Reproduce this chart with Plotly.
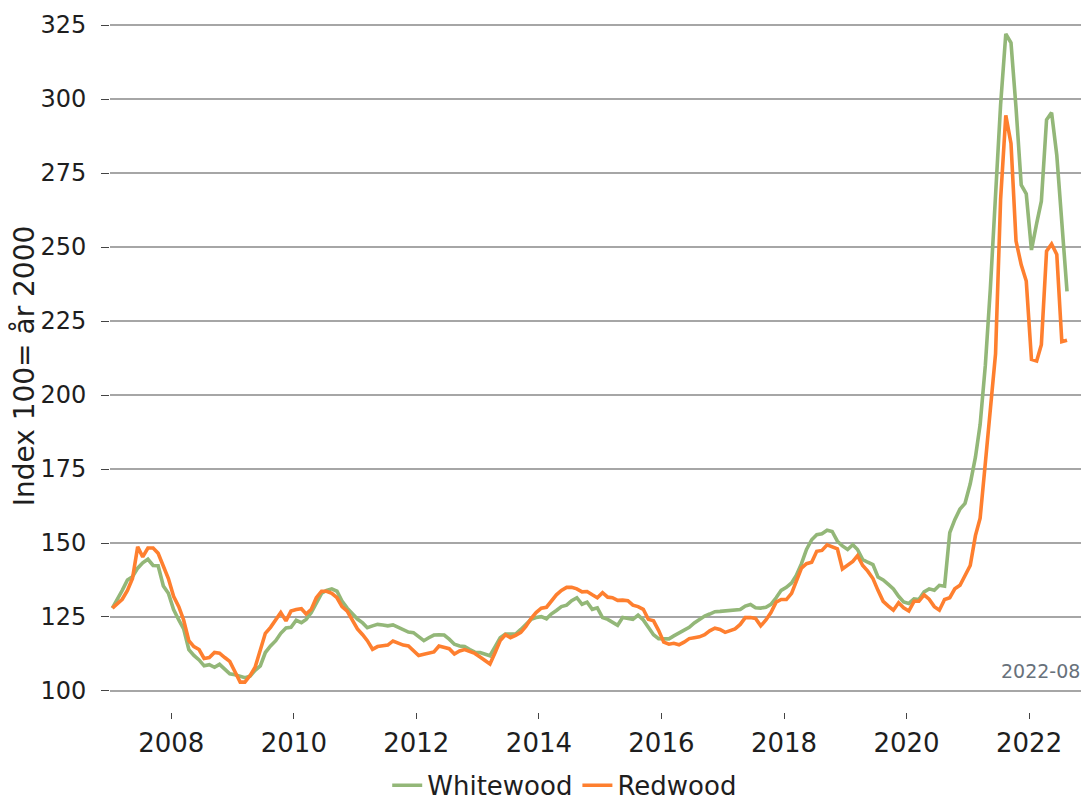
import pandas as pd
import plotly.graph_objects as go

# Monthly index values, 2007-01 .. 2022-08 (index 100 = year 2000)
start_month = "2007-01-01"
n_months = 188

whitewood = [
    128, 131, 134, 137.5, 138.6, 141.5, 143.3, 144.5, 142.4, 142.3, 135.5, 133,
    127.5, 124, 121, 114, 112, 110.5, 108.5, 108.9, 108, 109, 107.5, 105.8,
    105.5, 105, 104.5, 105, 107, 108.5, 113, 115.2, 117, 119.5, 121.3, 121.5,
    123.9, 123.1, 124.2, 126.5, 129.5, 133, 134, 134.5, 133.7, 130.4, 128, 126,
    124.3, 123, 121.4, 122, 122.5, 122.3, 122, 122.3, 121.4, 120.5, 119.9, 119.7,
    118.5, 117, 118, 118.9, 119, 118.9, 117.5, 115.8, 115.2, 115, 114, 113.1,
    113, 112.5, 111.9, 115, 118, 119.2, 119.2, 119.2, 120.8, 122.5, 124.2, 124.8,
    125.1, 124.4, 126, 127.2, 128.5, 129, 130.5, 131.5, 129.3, 130, 127.6, 128.1,
    124.8, 124.2, 123.3, 122.2, 124.8, 124.5, 124.2, 125.6, 124, 121.5, 119, 117.7,
    117.5, 117.6, 118.6, 119.6, 120.8, 121.5, 123, 124.2, 125.3, 126, 126.8, 126.9,
    127, 127.1, 127.2, 127.5, 128.7, 129.2, 128.1, 128, 128.3, 129.3, 131.5, 134,
    135, 136.5, 139, 143, 147.8, 151.1, 152.8, 153.1, 154.3, 153.9, 150.6, 149,
    147.8, 149.4, 147.8, 144.4, 143.5, 142.7, 138.5, 137.5, 136, 134.5, 132, 130.1,
    129.6, 131.1, 130.9, 133.5, 134.5, 134, 135.7, 135.4, 153.5, 157.9, 161.5, 163.4,
    170, 179, 190, 210, 236, 268, 298, 322, 319, 297, 271, 268,
    249, 258, 265.5, 293, 295.4, 281, 259, 235,
]

redwood = [
    128, 129.5, 131, 134, 138, 148.7, 145.3, 148.3, 148.3, 146.5, 142, 138,
    132, 128.5, 124, 117, 115, 114, 111, 111.3, 113, 112.8, 111.3, 110,
    106.5, 103, 103, 105.2, 108, 114, 119.5, 121.5, 124.2, 126.5, 123.7, 127,
    127.5, 127.8, 126, 127.6, 131.5, 133.7, 133.7, 133, 131.5, 128.5, 127, 124,
    121, 119, 117, 114.1, 115, 115.3, 115.5, 116.9, 116.2, 115.5, 115.2, 113.5,
    112, 112.4, 112.8, 113.2, 115.2, 114.8, 114.3, 112.5, 113.5, 114, 113.4, 112.7,
    111.5, 110.4, 109.1, 113, 117, 119, 118, 118.8, 119.8, 121.8, 124.5, 126.5,
    128, 128.3, 130.5, 132.5, 134, 135, 135, 134.5, 133.5, 133.6, 132.5, 131.5,
    133.2, 131.7, 131.5, 130.6, 130.7, 130.5, 129, 128.5, 127.6, 124.2, 123.7, 120.5,
    116.5, 115.8, 116.1, 115.6, 116.5, 117.7, 118, 118.3, 119, 120.3, 121.2, 120.8,
    119.8, 120.3, 121, 122.5, 124.8, 124.8, 124.5, 122, 124, 126.5, 130, 130.9,
    130.9, 133, 137, 141.5, 143, 143.5, 147.2, 147.5, 149.4, 148.7, 148, 141.2,
    142.7, 143.8, 145.7, 142.4, 140.5, 138, 134, 130.3, 128.7, 127.3, 129.8, 128.1,
    127, 130.3, 130.3, 132.5, 131, 128.5, 127.3, 130.9, 131.5, 134.5, 135.7, 138.8,
    142.4, 152.5, 158.4, 177, 196, 214, 266, 294.5, 285, 252, 244, 238.5,
    212, 211.5, 217, 248.6, 251, 247.5, 218, 218.5,
]

y_ticks = [100, 125, 150, 175, 200, 225, 250, 275, 300, 325]
series_names = ["Whitewood", "Redwood"]
y_title = "Index 100= år 2000"
stamp_text = "2022-08"

dates = pd.date_range(start=start_month, periods=n_months, freq="MS") + pd.Timedelta(days=14)

GREEN = "#93b778"
ORANGE = "#fe7f2f"
FONT = "DejaVu Sans"
TXT = "#1e1e1e"

fig = go.Figure()
fig.add_trace(go.Scatter(x=dates, y=whitewood, mode="lines", name=series_names[0],
                         line=dict(color=GREEN, width=3.6)))
fig.add_trace(go.Scatter(x=dates, y=redwood, mode="lines", name=series_names[1],
                         line=dict(color=ORANGE, width=3.6)))

fig.add_annotation(text=stamp_text, xref="paper", yref="y", x=0.993, y=106.8,
                   xanchor="right", yanchor="middle", showarrow=False,
                   font=dict(family=FONT, size=19, color="#68717b"))

# the page body adds an 8 px offset; the figure is sized to fill the rest of the window
fig.update_layout(
    width=1081, height=804,
    margin=dict(l=102, r=0, t=12, b=100, autoexpand=False),
    paper_bgcolor="white", plot_bgcolor="white",
    font=dict(family=FONT, color=TXT),
    showlegend=True,
    legend=dict(orientation="h", xref="container", yref="container",
                x=0.515, xanchor="center", y=0.004, yanchor="bottom",
                font=dict(size=26, color=TXT, family=FONT), bgcolor="rgba(0,0,0,0)",
                traceorder="normal"),
    xaxis=dict(
        type="date", range=["2007-01-01", "2022-12-24"], automargin=False,
        tick0="2008-01-01", dtick="M24", tickformat="%Y",
        showgrid=False, zeroline=False, showline=False,
        ticks="outside", ticklen=6, tickwidth=1, tickcolor="#444",
        tickfont=dict(size=26, color=TXT, family=FONT),
        ticklabelstandoff=2,
    ),
    yaxis=dict(
        range=[92.9, 326.7], tickvals=y_ticks, automargin=False,
        showgrid=True, gridcolor="#a6a6a6", gridwidth=1.5,
        zeroline=False, showline=False,
        ticks="outside", ticklen=8, tickwidth=1, tickcolor="#444",
        tickfont=dict(size=24, color=TXT, family=FONT),
        ticklabelstandoff=10,
        title=dict(text=y_title, font=dict(size=28, color=TXT, family=FONT), standoff=6),
    ),
)

fig.write_html("out.html")
